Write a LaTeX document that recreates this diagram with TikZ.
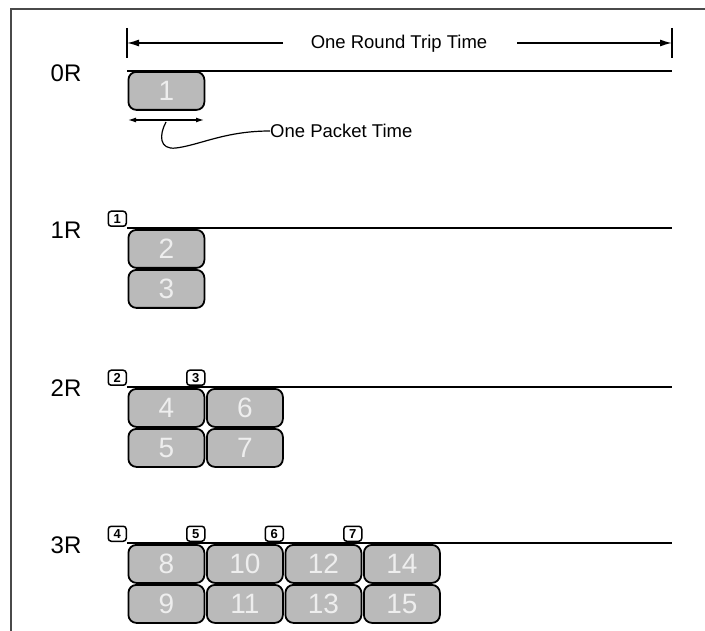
\documentclass[tikz,border=0pt]{standalone}
\usepackage{fontspec}
\setmainfont{Liberation Sans}
\usetikzlibrary{arrows.meta}
\definecolor{pktgray}{HTML}{BABABA}
\definecolor{pkttext}{HTML}{EEEEEE}
\definecolor{framegray}{HTML}{4A4A4A}
\begin{document}
\begin{tikzpicture}[x=1pt,y=-1pt,
  pkt/.style={draw=black, line width=1.8pt, fill=pktgray, rounded corners=8pt,
    minimum width=76pt, minimum height=38pt, inner sep=0pt, anchor=north west,
    text=pkttext, font=\fontsize{28}{28}\selectfont},
  ackbox/.style={draw=black, line width=1.5pt, fill=white, rounded corners=3pt,
    minimum width=18pt, minimum height=15pt, inner sep=0pt, anchor=south east,
    font=\bfseries\fontsize{13}{13}\selectfont},
  rlabel/.style={font=\fontsize{24}{24}\selectfont},
  caption/.style={font=\fontsize{18.5}{18.5}\selectfont, inner sep=0pt},
  tline/.style={line width=1.6pt, black},
  rttarrow/.style={line width=1.4pt, -{Latex[length=12pt,width=7pt]}},
  tick/.style={line width=1.6pt},
  ptarrow/.style={line width=1.2pt, {Latex[length=8pt,width=5pt]}-{Latex[length=8pt,width=5pt]}},
]
\useasboundingbox (0,0) rectangle (705,631);

% frame
\coordinate (f1) at (11,631);
\coordinate (f2) at (11,9);
\coordinate (f3) at (705,9);
\draw[framegray, line width=1.6pt] (f1) -- (f2) -- (f3);

% round trip time
\coordinate (tlA) at (127,28);
\coordinate (tlB) at (127,58);
\coordinate (trA) at (672,28);
\coordinate (trB) at (672,58);
\coordinate (tlM) at (127,43);
\coordinate (trM) at (672,43);
\coordinate (alS) at (283,43);
\coordinate (arS) at (517,43);
\draw[tick] (tlA) -- (tlB);
\draw[tick] (trA) -- (trB);
\node[caption] (rtt) at (399,44) {One Round Trip Time};
\draw[rttarrow] (alS) -- (tlM);
\draw[rttarrow] (arS) -- (trM);

% timelines
\coordinate (l0s) at (127,71);  \coordinate (l0e) at (672,71);
\coordinate (l1s) at (127,228); \coordinate (l1e) at (672,228);
\coordinate (l2s) at (127,387); \coordinate (l2e) at (672,387);
\coordinate (l3s) at (127,543); \coordinate (l3e) at (672,543);
\draw[tline] (l0s) -- (l0e);
\draw[tline] (l1s) -- (l1e);
\draw[tline] (l2s) -- (l2e);
\draw[tline] (l3s) -- (l3e);

% round labels
\node[rlabel] (r0) at (66,73) {0R};
\node[rlabel] (r1) at (66,230) {1R};
\node[rlabel] (r2) at (66,388) {2R};
\node[rlabel] (r3) at (66,545) {3R};

% round 0
\node[pkt] (p1) at (127.5,71) {1};
\coordinate (ptA) at (128,120);
\coordinate (ptB) at (204,120);
\draw[ptarrow] (ptA) -- (ptB);
\node[caption, anchor=west] (pt) at (270,131) {One Packet Time};
\coordinate (ld) at (166,122);
\draw[line width=1.2pt] (ld) .. controls (159,135) and (159,150) .. (176,148)
  .. controls (200,145) and (225,131) .. (pt.west);

% round 1
\node[ackbox] (m1) at (127,227) {1};
\node[pkt] (p2) at (127.5,229) {2};
\node[pkt] (p3) at (127.5,269) {3};

% round 2
\node[ackbox] (m2) at (127,386) {2};
\node[ackbox] (m3) at (205.5,386) {3};
\node[pkt] (p4) at (127.5,388) {4};
\node[pkt] (p5) at (127.5,428) {5};
\node[pkt] (p6) at (206,388) {6};
\node[pkt] (p7) at (206,428) {7};

% round 3
\node[ackbox] (m4) at (127,542) {4};
\node[ackbox] (m5) at (205.5,542) {5};
\node[ackbox] (m6) at (284,542) {6};
\node[ackbox] (m7) at (362.5,542) {7};
\node[pkt] (p8) at (127.5,544) {8};
\node[pkt] (p9) at (127.5,584) {9};
\node[pkt] (p10) at (206,544) {10};
\node[pkt] (p11) at (206,584) {11};
\node[pkt] (p12) at (284.5,544) {12};
\node[pkt] (p13) at (284.5,584) {13};
\node[pkt] (p14) at (363,544) {14};
\node[pkt] (p15) at (363,584) {15};
\end{tikzpicture}
\end{document}
